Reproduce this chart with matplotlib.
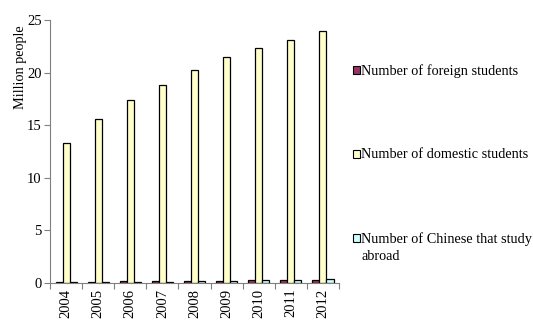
import numpy as np
import matplotlib.pyplot as plt
from matplotlib.patches import Rectangle

plt.rcParams['font.family'] = ['Liberation Serif', 'DejaVu Serif']

years = ['2004', '2005', '2006', '2007', '2008', '2009', '2010', '2011', '2012']
foreign = [0.11, 0.14, 0.16, 0.19, 0.22, 0.24, 0.27, 0.29, 0.33]
domestic = [13.33, 15.62, 17.39, 18.85, 20.21, 21.45, 22.32, 23.09, 23.91]
abroad = [0.11, 0.12, 0.13, 0.14, 0.18, 0.23, 0.28, 0.34, 0.40]

labels = ['Number of foreign students', 'Number of domestic students',
          'Number of Chinese that study\nabroad']
colors = ['#993366', '#FFFFCC', '#CCFFFF']

fig = plt.figure(figsize=(5.33, 3.21), dpi=100)
ax = fig.add_axes([0.094, 0.118, 0.542, 0.82])

x = np.arange(len(years))
w = 0.22
for i, vals in enumerate([foreign, domestic, abroad]):
    ax.bar(x + (i - 1) * w, vals, w, color=colors[i], edgecolor='black', linewidth=0.9)

ax.set_xlim(-0.5, len(years) - 0.5)
ax.set_ylim(0, 25)
ax.set_yticks([0, 5, 10, 15, 20, 25])
ax.set_xticks(x)
ax.set_xticklabels(years, rotation=90)
ax.set_xticks(np.arange(-0.5, len(years)), minor=True)
ax.tick_params(axis='x', which='major', length=0, pad=4, labelsize=10.5)
ax.tick_params(axis='x', which='minor', length=4, width=0.8, color='#808080')
ax.tick_params(axis='y', length=4, width=0.8, color='#808080', labelsize=10.5, pad=2)
for s in ['top', 'right']:
    ax.spines[s].set_visible(False)
for s in ['left', 'bottom']:
    ax.spines[s].set_color('#808080')
    ax.spines[s].set_linewidth(0.8)

ax.set_ylabel('Million people', fontsize=10.3)
ax.yaxis.set_label_coords(-0.08, 0.82)

# legend drawn by hand, entries spread down the right side
ys = [0.782, 0.52, 0.258]
for lab, c, yy in zip(labels, colors, ys):
    fig.patches.append(Rectangle((0.662, yy - 0.012), 0.013, 0.024, transform=fig.transFigure,
                                 facecolor=c, edgecolor='black', linewidth=0.8))
    fig.text(0.678, yy + 0.019, lab, fontsize=10.3, va='top', ha='left', linespacing=1.45)

fig.savefig('out.png', dpi=100)
